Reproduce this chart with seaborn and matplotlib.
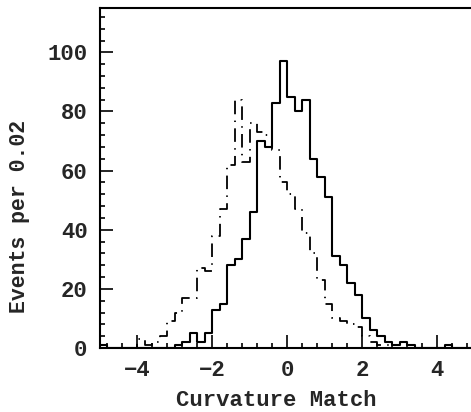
import numpy as np
import pandas as pd
import matplotlib
matplotlib.use("Agg")
import matplotlib.pyplot as plt
import seaborn as sns
from matplotlib.ticker import MultipleLocator

# ---- data (bin counts, bins of width 0.2 from -5 to 5) ----
bin_edges = [round(-5.0 + 0.2 * i, 2) for i in range(51)]
solid_counts = [1, 0, 0, 0, 0, 0, 0, 0, 0, 0,
                1, 2, 5, 2, 5, 13, 15, 28, 30, 37,
                46, 70, 68, 83, 97, 85, 80, 84, 64, 58,
                51, 31, 28, 22, 18, 10, 6, 4, 2, 1,
                2, 1, 0, 0, 0, 0, 1, 0, 0, 0]
dashdot_counts = [0, 0, 0, 0, 0, 3, 1, 2, 4, 9,
                  12, 17, 17, 27, 26, 38, 47, 62, 84, 63,
                  76, 73, 72, 67, 56, 52, 47, 39, 32, 23,
                  15, 10, 9, 8, 7, 4, 2, 1, 1, 0,
                  0, 0, 0, 0, 0, 0, 0, 0, 0, 0]
x_ticks = [-4, -2, 0, 2, 4]
y_ticks = [0, 20, 40, 60, 80, 100]
x_label = "Curvature Match"
y_label = "Events per 0.02"

centers = [(a + b) / 2 for a, b in zip(bin_edges[:-1], bin_edges[1:])]
df_solid = pd.DataFrame({"x": centers, "w": solid_counts})
df_dash = pd.DataFrame({"x": centers, "w": dashdot_counts})

sns.set_style("ticks")
plt.rcParams["font.family"] = ["Liberation Mono", "DejaVu Sans"]
plt.rcParams["font.weight"] = "bold"
plt.rcParams["axes.linewidth"] = 1.5

fig = plt.figure(figsize=(4.71, 4.12), dpi=100)
ax = fig.add_axes([100 / 471, 64 / 412, 374.5 / 471, 340 / 412])

sns.histplot(data=df_solid, x="x", weights="w", bins=bin_edges,
             element="step", fill=False, color="black", linewidth=1.5, ax=ax)
sns.histplot(data=df_dash, x="x", weights="w", bins=bin_edges,
             element="step", fill=False, color="black", linewidth=1.3,
             linestyle=(0, (7.5, 3.5, 0.8, 3.5)), ax=ax)

ax.set_xlim(-5, 5)
ax.set_ylim(0, 115)
ax.set_xticks(x_ticks)
ax.set_yticks(y_ticks)
ax.set_xticklabels(["\u2212" + str(abs(t)) if t < 0 else str(t) for t in x_ticks])
ax.xaxis.set_minor_locator(MultipleLocator(0.4))
ax.yaxis.set_minor_locator(MultipleLocator(4))
ax.tick_params(which="both", direction="in", top=False, right=False,
               color="black", width=1.2)
ax.tick_params(which="major", length=9.5, labelsize=16, pad=9)
ax.tick_params(which="minor", length=3.6)
for s in ax.spines.values():
    s.set_visible(True)
    s.set_linewidth(1.5)
    s.set_color("black")

ax.set_xlabel(x_label, fontsize=16, fontweight="bold")
ax.set_ylabel(y_label, fontsize=15.5, fontweight="bold")
ax.xaxis.set_label_coords(0.472, -0.124)
ax.yaxis.set_label_coords(-0.186, 0.388)

fig.savefig("out.png", dpi=100)
